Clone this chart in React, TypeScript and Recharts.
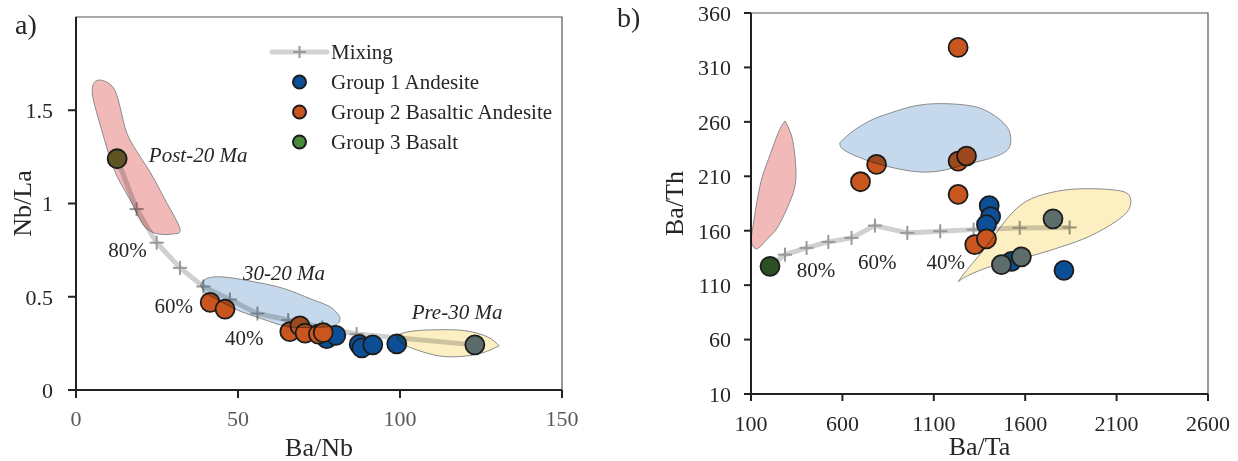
import React from "react";
import {
  Cell,
  Label,
  Legend,
  ReferenceArea,
  ReferenceDot,
  Scatter,
  ScatterChart,
  XAxis,
  YAxis,
} from "recharts";

const FONT = '"Liberation Serif", "Times New Roman", serif';

// ---- panel a: Nb/La vs Ba/Nb ----
const mixA_baNb = [12.7, 18.7, 24.9, 32.1, 39.3, 47.5, 56, 65.5, 76, 86.6, 123];
const mixA_nbLa = [1.24, 0.97, 0.79, 0.655, 0.555, 0.485, 0.41, 0.375, 0.335, 0.3, 0.242];

const g1A_baNb = [77.4, 80.2, 87.4, 88.2, 91.6, 99.0];
const g1A_nbLa = [0.275, 0.293, 0.245, 0.226, 0.242, 0.247];
const g2A_baNb = [41.4, 46.0, 66.0, 69.1, 70.7, 74.8, 76.3];
const g2A_nbLa = [0.47, 0.434, 0.313, 0.344, 0.305, 0.3, 0.308];
const g3A_baNb = [12.7, 123.1];
const g3A_nbLa = [1.24, 0.242];

// field outlines (a)
const post20A_x = [31.5, 26, 21, 17.3, 12.7, 9.5, 6.5, 5, 6.5, 10.5, 12.8, 14.5, 17, 22.8, 27.5, 31.8, 31.5];
const post20A_y = [0.84, 0.835, 0.88, 1.0, 1.145, 1.3, 1.48, 1.6, 1.66, 1.64, 1.57, 1.45, 1.33, 1.17, 1.02, 0.88, 0.84];
const mid30A_x = [38.5, 40, 43.4, 48.5, 55, 61.9, 68, 73.1, 78, 80.5, 81.5, 79.5, 73, 66, 61, 56.8, 51, 46.5, 42, 39.5, 38.5];
const mid30A_y = [0.565, 0.595, 0.607, 0.6, 0.58, 0.555, 0.52, 0.484, 0.45, 0.414, 0.38, 0.345, 0.336, 0.338, 0.36, 0.385, 0.42, 0.457, 0.5, 0.53, 0.565];
const pre30A_x = [130.6, 127, 120, 112, 105, 100, 99.3, 101, 105.2, 113.4, 122.6, 127.5, 130.6];
const pre30A_y = [0.237, 0.285, 0.318, 0.323, 0.318, 0.3, 0.275, 0.245, 0.215, 0.18, 0.188, 0.212, 0.237];

// ---- panel b: Ba/Th vs Ba/Ta ----
const mixB_baTa = [204, 286, 404, 523, 650, 778, 955, 1135, 1318, 1570, 1843];
const mixB_baTh = [127, 138, 144.2, 149.7, 153.4, 164.7, 158, 159.5, 161, 162.6, 163];

const g1B_baTa = [1403, 1411, 1388, 1525, 1812];
const g1B_baTh = [183, 173, 165.6, 131.8, 123.6];
const g2B_baTa = [699, 787, 1233, 1233, 1279, 1233, 1324, 1388];
const g2B_baTh = [205, 220.9, 328.4, 224, 228.6, 193.3, 147.2, 152.5];
const g3B_baTa = [204, 1752, 1470, 1579];
const g3B_baTh = [127.3, 170.9, 128.8, 135.9];

const post20B_x = [286, 322, 340, 346, 331, 286, 237, 186, 131, 104, 108, 149, 195, 249, 286];
const post20B_y = [260.8, 247, 228.6, 210, 194.8, 176.4, 161, 151.8, 143.3, 148.8, 161, 201, 225.5, 250, 260.8];
const mid30B_x = [586, 659, 768, 896, 1060, 1279, 1406, 1497, 1521, 1497, 1388, 1242, 1060, 841, 696, 604, 586];
const mid30B_y = [240.9, 251.6, 262.4, 270, 276.2, 275.3, 268.5, 256.2, 243.9, 233.2, 225.5, 219.3, 213.8, 219.3, 227.1, 234.7, 240.9];
const pre30B_x = [1233, 1297, 1388, 1497, 1606, 1734, 1898, 2098, 2171, 2171, 2098, 1952, 1806, 1625, 1443, 1297, 1233];
const pre30B_y = [113.2, 127.2, 145.7, 170.3, 187, 194.8, 198.5, 197.2, 191.7, 181, 168.7, 154.9, 145.7, 136.5, 128.8, 119.6, 113.2];

// tick labels
const ticksAx = [0, 50, 100, 150];
const ticksAy = [0, 0.5, 1, 1.5];
const ticksBx = [100, 600, 1100, 1600, 2100, 2600];
const ticksBy = [10, 60, 110, 160, 210, 260, 310, 360];

const BLUE = "#0d4f97";
const ORANGE = "#c9561f";
const GREEN = "#4a8a3e";
// how the basalt points look where the fields cover them
const g3A_fills = ["#5e5424", "#5b6b6b"];
const g3B_fills = ["#2d5124", "#5d6d6b", "#5d6d6b", "#5d6d6b"];

const pts = (xs: number[], ys: number[]) => xs.map((x, i) => ({ x, y: ys[i] }));

const Dot = (p: any) => (
  <circle cx={p.cx} cy={p.cy} r={9.5} fill={p.fill} stroke="#1c1c1c" strokeWidth={1.8} />
);
const Plus = (p: any) => (
  <g stroke="#999" strokeWidth={2}>
    <line x1={p.cx - 7} x2={p.cx + 7} y1={p.cy} y2={p.cy} />
    <line x1={p.cx} x2={p.cx} y1={p.cy - 7} y2={p.cy + 7} />
  </g>
);
const Nothing = () => <g />;

const tickStyle = { fill: "#262626", fontSize: 22, fontFamily: FONT };
const axisStroke = { stroke: "#222", strokeWidth: 2 };

const field = (fill: string) => ({
  stroke: "#8a8a8a",
  strokeWidth: 1,
  fill,
  style: { mixBlendMode: "multiply" as const },
});

const note = (value: string, italic = false) => ({
  value,
  position: "center" as const,
  fill: "#262626",
  fontSize: 21,
  fontFamily: FONT,
  fontStyle: italic ? "italic" : "normal",
});

function MixLegend() {
  const rows = [
    { name: "Group 1 Andesite", color: BLUE },
    { name: "Group 2 Basaltic Andesite", color: ORANGE },
    { name: "Group 3 Basalt", color: GREEN },
  ];
  return (
    <svg width={300} height={120} style={{ fontFamily: FONT }}>
      <line x1={4} x2={59} y1={14} y2={14} stroke="#d3d3d3" strokeWidth={5} strokeLinecap="round" />
      <line x1={25} x2={38} y1={14} y2={14} stroke="#999" strokeWidth={2} />
      <line x1={31.5} x2={31.5} y1={8} y2={20} stroke="#999" strokeWidth={2} />
      <text x={63} y={14} dominantBaseline="central" fontSize={21} fill="#262626">
        Mixing
      </text>
      {rows.map((r, i) => (
        <g key={r.name}>
          <circle cx={31.5} cy={44 + i * 30} r={6.5} fill={r.color} stroke="#1c1c1c" strokeWidth={2} />
          <text x={63} y={44 + i * 30} dominantBaseline="central" fontSize={21} fill="#262626">
            {r.name}
          </text>
        </g>
      ))}
    </svg>
  );
}

function PanelA() {
  return (
    <ScatterChart width={600} height={461} margin={{ top: 17, right: 38, bottom: 0, left: 0 }}>
      <XAxis
        type="number"
        dataKey="x"
        domain={[0, 150]}
        ticks={ticksAx}
        height={71}
        tick={{ ...tickStyle, fill: "#595959" }}
        tickSize={8}
        tickMargin={12}
        axisLine={axisStroke}
        tickLine={axisStroke}
      >
        <Label value="Ba/Nb" position="insideBottom" offset={5} fill="#262626" fontSize={26} fontFamily={FONT} />
      </XAxis>
      <YAxis
        type="number"
        dataKey="y"
        domain={[0, 2]}
        ticks={ticksAy}
        width={76}
        tick={tickStyle}
        tickSize={8}
        tickMargin={15}
        axisLine={axisStroke}
        tickLine={axisStroke}
      >
        <Label value="Nb/La" angle={-90} position="center" dx={-16} fill="#262626" fontSize={26} fontFamily={FONT} />
      </YAxis>
      <ReferenceArea x1={0} x2={150} y1={0} y2={2} fill="none" stroke="#555" strokeWidth={1.2} />
      <Scatter
        name="Mixing"
        data={pts(mixA_baNb, mixA_nbLa)}
        line={{ stroke: "#d0d0d0", strokeWidth: 5, strokeLinejoin: "round" }}
        shape={Plus}
        isAnimationActive={false}
      />
      <Scatter name="Group 1 Andesite" data={pts(g1A_baNb, g1A_nbLa)} fill={BLUE} shape={Dot} isAnimationActive={false} />
      <Scatter name="Group 2 Basaltic Andesite" data={pts(g2A_baNb, g2A_nbLa)} fill={ORANGE} shape={Dot} isAnimationActive={false} />
      <Scatter data={pts(post20A_x, post20A_y)} className="field" line={field("#f2b9b9")} lineJointType="natural" shape={Nothing} isAnimationActive={false} legendType="none" />
      <Scatter data={pts(mid30A_x, mid30A_y)} className="field" line={field("#c6d9ec")} lineJointType="natural" shape={Nothing} isAnimationActive={false} legendType="none" />
      <Scatter data={pts(pre30A_x, pre30A_y)} className="field" line={field("#fcefc2")} lineJointType="natural" shape={Nothing} isAnimationActive={false} legendType="none" />
      <Scatter name="Group 3 Basalt" data={pts(g3A_baNb, g3A_nbLa)} fill={GREEN} shape={Dot} isAnimationActive={false}>
        {g3A_fills.map((c, i) => (
          <Cell key={i} fill={c} />
        ))}
      </Scatter>
      <ReferenceDot x={37.7} y={1.263} r={0} fill="none" stroke="none" label={note("Post-20 Ma", true)} />
      <ReferenceDot x={64.2} y={0.629} r={0} fill="none" stroke="none" label={note("30-20 Ma", true)} />
      <ReferenceDot x={117.6} y={0.419} r={0} fill="none" stroke="none" label={note("Pre-30 Ma", true)} />
      <ReferenceDot x={15.9} y={0.753} r={0} fill="none" stroke="none" label={note("80%")} />
      <ReferenceDot x={30.2} y={0.452} r={0} fill="none" stroke="none" label={note("60%")} />
      <ReferenceDot x={51.9} y={0.28} r={0} fill="none" stroke="none" label={note("40%")} />
      <Legend
        layout="vertical"
        align="center"
        verticalAlign="middle"
        content={() => <MixLegend />}
        wrapperStyle={{ left: 268, top: 38, width: 300, height: 120 }}
      />
    </ScatterChart>
  );
}

function PanelB() {
  return (
    <ScatterChart width={618} height={461} margin={{ top: 13, right: 30, bottom: 0, left: 0 }}>
      <XAxis
        type="number"
        dataKey="x"
        domain={[100, 2600]}
        ticks={ticksBx}
        height={67}
        tick={tickStyle}
        tickSize={7}
        tickMargin={14}
        axisLine={axisStroke}
        tickLine={axisStroke}
      >
        <Label value="Ba/Ta" position="insideBottom" offset={6} fill="#262626" fontSize={26} fontFamily={FONT} />
      </XAxis>
      <YAxis
        type="number"
        dataKey="y"
        domain={[10, 360]}
        ticks={ticksBy}
        width={131}
        tick={tickStyle}
        tickSize={7}
        tickMargin={13}
        axisLine={axisStroke}
        tickLine={axisStroke}
      >
        <Label value="Ba/Th" angle={-90} position="center" dx={-12} fill="#262626" fontSize={26} fontFamily={FONT} />
      </YAxis>
      <ReferenceArea x1={100} x2={2600} y1={10} y2={360} fill="none" stroke="#555" strokeWidth={1.2} />
      <Scatter
        name="Mixing"
        data={pts(mixB_baTa, mixB_baTh)}
        line={{ stroke: "#d0d0d0", strokeWidth: 5, strokeLinejoin: "round" }}
        shape={Plus}
        isAnimationActive={false}
      />
      <Scatter name="Group 1 Andesite" data={pts(g1B_baTa, g1B_baTh)} fill={BLUE} shape={Dot} isAnimationActive={false} />
      <Scatter name="Group 2 Basaltic Andesite" data={pts(g2B_baTa, g2B_baTh)} fill={ORANGE} shape={Dot} isAnimationActive={false} />
      <Scatter data={pts(post20B_x, post20B_y)} className="field" line={field("#f2b9b9")} lineJointType="natural" shape={Nothing} isAnimationActive={false} legendType="none" />
      <Scatter data={pts(mid30B_x, mid30B_y)} className="field" line={field("#c6d9ec")} lineJointType="natural" shape={Nothing} isAnimationActive={false} legendType="none" />
      <Scatter data={pts(pre30B_x, pre30B_y)} className="field" line={field("#fcefc2")} lineJointType="natural" shape={Nothing} isAnimationActive={false} legendType="none" />
      <Scatter name="Group 3 Basalt" data={pts(g3B_baTa, g3B_baTh)} fill={GREEN} shape={Dot} isAnimationActive={false}>
        {g3B_fills.map((c, i) => (
          <Cell key={i} fill={c} />
        ))}
      </Scatter>
      <ReferenceDot x={455} y={124.2} r={0} fill="none" stroke="none" label={note("80%")} />
      <ReferenceDot x={791} y={131.6} r={0} fill="none" stroke="none" label={note("60%")} />
      <ReferenceDot x={1165} y={131.6} r={0} fill="none" stroke="none" label={note("40%")} />
    </ScatterChart>
  );
}

export default function App() {
  return (
    <div
      style={{
        position: "absolute",
        left: 0,
        top: 0,
        width: 1238,
        height: 461,
        background: "#fff",
        fontFamily: FONT,
        color: "#262626",
      }}
    >
      <style>{`.field path { mix-blend-mode: multiply; }`}</style>
      <div style={{ position: "absolute", left: 0, top: 0 }}>
        <PanelA />
      </div>
      <div style={{ position: "absolute", left: 620, top: 0 }}>
        <PanelB />
      </div>
      <div style={{ position: "absolute", left: 15, top: 10, fontSize: 28, lineHeight: "30px" }}>a)</div>
      <div style={{ position: "absolute", left: 617, top: 3, fontSize: 28, lineHeight: "30px" }}>b)</div>
    </div>
  );
}
